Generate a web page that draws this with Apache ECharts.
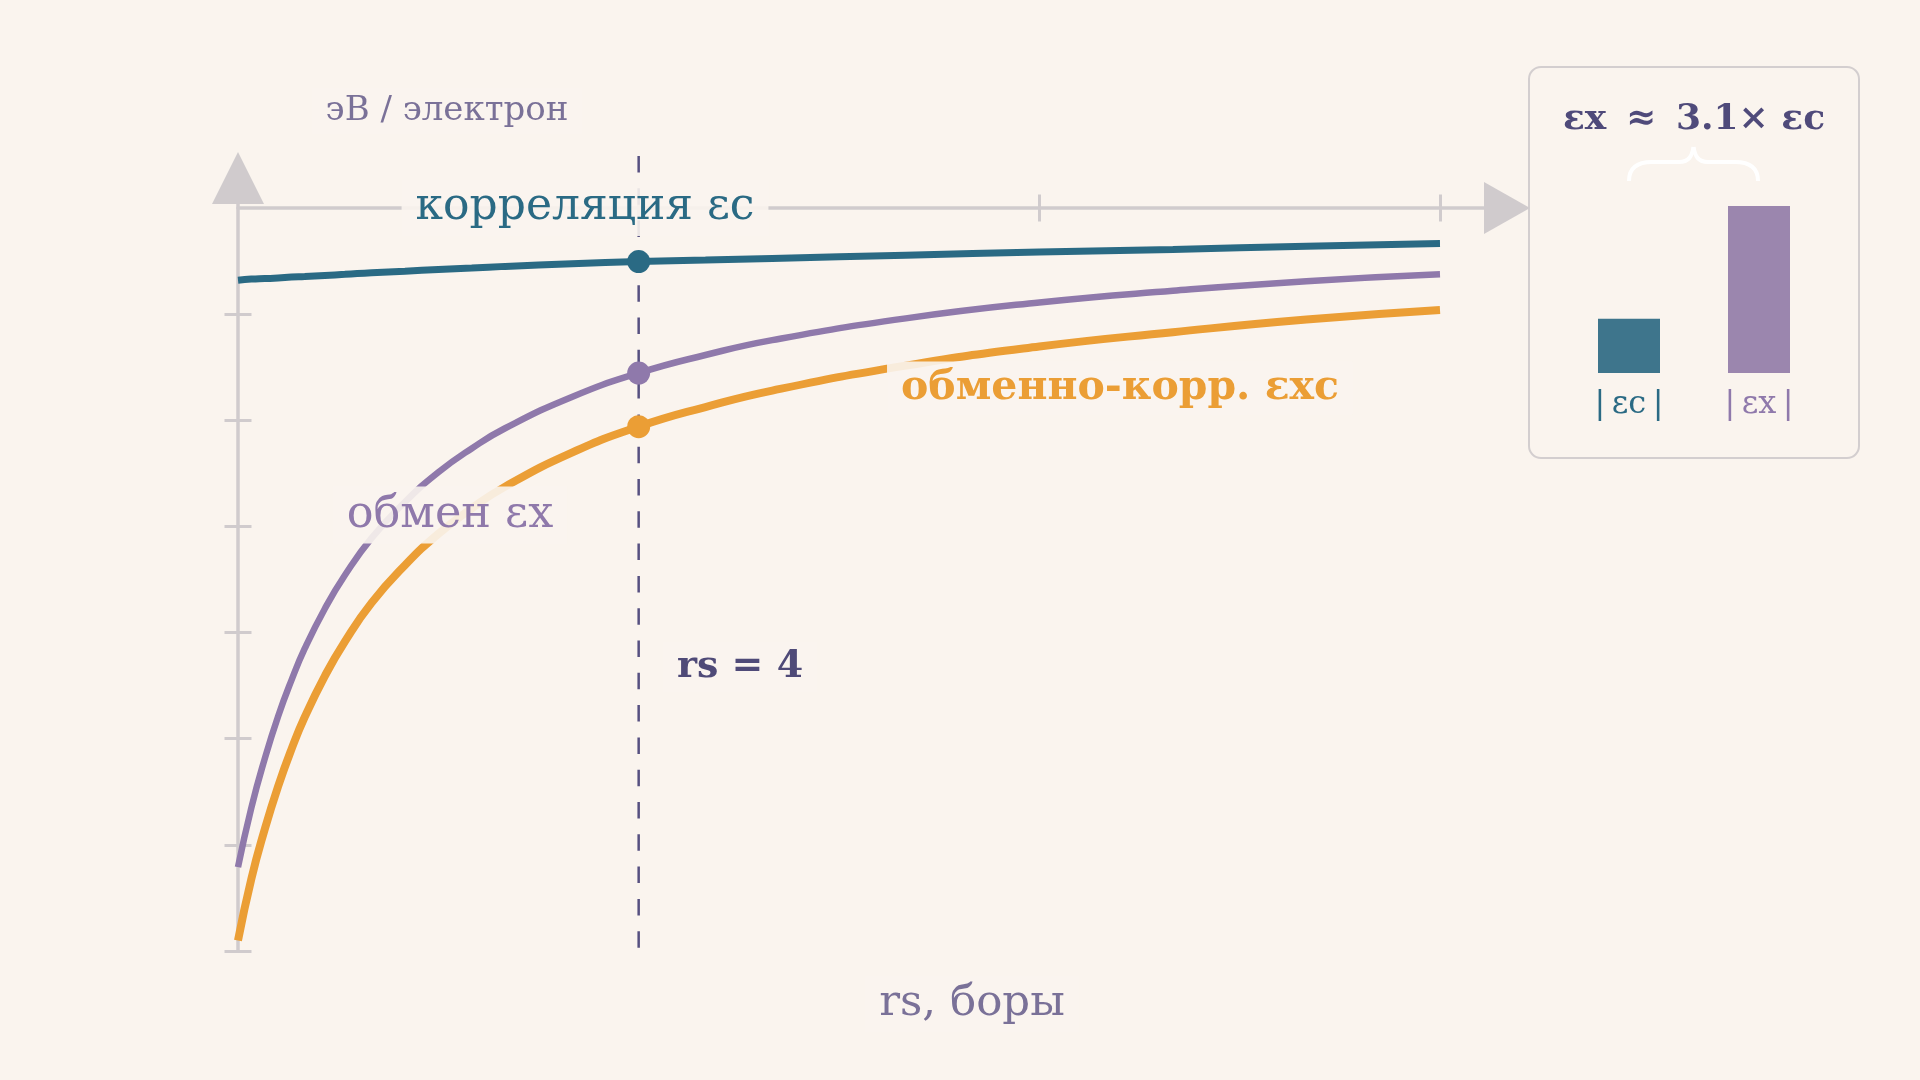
<!DOCTYPE html>
<html>
<head>
<meta charset="utf-8">
<script src="https://cdn.jsdelivr.net/npm/echarts@6/dist/echarts.min.js"></script>
<style>
html,body{margin:0;padding:0;background:#faf4ee;}
#chart{width:1920px;height:1080px;}
</style>
</head>
<body>
<div id="chart"></div>
<script>
// ---- data ----
const rs     = [1, 1.1, 1.2, 1.3, 1.4, 1.5, 1.65, 1.8, 2, 2.25, 2.5, 2.75, 3, 3.5, 4, 4.5, 5, 6, 7, 8, 9, 10];
const epsX   = [-12.42, -11.3, -10.38, -9.58, -8.9, -8.3, -7.55, -6.92, -6.22, -5.54, -4.98, -4.53, -4.15, -3.56, -3.11, -2.77, -2.49, -2.08, -1.78, -1.56, -1.38, -1.25];
const epsC   = [-1.36, -1.34, -1.33, -1.32, -1.30, -1.29, -1.27, -1.25, -1.22, -1.19, -1.16, -1.13, -1.10, -1.05, -1.01, -0.98, -0.95, -0.89, -0.83, -0.78, -0.72, -0.67];
const epsXC  = [-13.8, -12.64, -11.71, -10.9, -10.2, -9.59, -8.82, -8.17, -7.44, -6.73, -6.14, -5.66, -5.25, -4.61, -4.12, -3.75, -3.44, -2.97, -2.61, -2.34, -2.10, -1.92];
const xTicks = [1, 4, 7, 10];
const yTicks = [0, -2, -4, -6, -8, -10, -12, -14];
const markerRs = 4;
const barLabels = ['|\u2009εc\u2009|', '|\u2009εx\u2009|'];
const ratioText = 'εx \u2009≈\u2009 3.1× εc';
const texts = {
  yName: 'эВ / электрон',
  xName: 'rs, боры',
  corr: 'корреляция εc',
  exch: 'обмен εx',
  xc: 'обменно-корр. εxc',
  marker: 'rs = 4'
};

// ---- styling ----
const BG = '#faf4ee';
const FONT = "'DejaVu Serif', 'Liberation Serif', serif";
const C_TEAL = '#2a6a84', C_PURP = '#8f79ab', C_ORNG = '#eb9e35';
const C_DASH = '#565080', C_AXIS = '#d0cbcd', C_NAME = '#7a7198', C_DARK = '#4f4a78';

const zip = (xs, ys) => xs.map((x, i) => [x, ys[i]]);
const mi = rs.indexOf(markerRs);
const barValues = [Math.abs(epsC[mi]), Math.abs(epsX[mi])];

const chart = echarts.init(document.getElementById('chart'), null, {renderer: 'canvas'});

const xMin = xTicks[0], xMax = xTicks[xTicks.length - 1], xStep = xTicks[1] - xTicks[0];
const yMin = yTicks[yTicks.length - 1], yMax = yTicks[0], yStep = yTicks[0] - yTicks[1];

// pixel layout
const L = 238, R = 1440, T = 208, B = 951;
const arrowX = 1507, arrowY = 178, dashTop = 156;
const xArrowMax = xMin + (xMax - xMin) * (arrowX - L) / (R - L);
const yArrowMax = yMin + (yMax - yMin) * (B - arrowY) / (B - T);

function tickAxis(kind, inside) {
  const base = {
    type: 'value', gridIndex: 0,
    axisLine: {show: false},
    axisTick: {show: true, inside: inside, length: 13.5, lineStyle: {color: C_AXIS, width: 3}},
    axisLabel: {show: false},
    splitLine: {show: false}
  };
  if (kind === 'x') {
    Object.assign(base, {min: xMin, max: xMax, interval: xStep, position: 'top'});
    base.axisTick.customValues = xTicks.slice(1);
  } else {
    Object.assign(base, {min: yMin, max: yMax, interval: yStep, position: 'left'});
    base.axisTick.customValues = yTicks.slice(1);
  }
  return base;
}
const hidden = {show: false};

function label(text, x, y, size, color, bold, halo) {
  const s = {
    text: text, x: x, y: y, fill: color,
    font: (bold ? 'bold ' : '') + size + 'px ' + FONT,
    align: 'center', verticalAlign: 'middle'
  };
  if (halo) {
    Object.assign(s, {
      backgroundColor: 'rgba(250,244,238,0.9)', padding: [6, 14],
      boxShadowBlur: 18, boxShadowColor: BG
    });
  }
  return {type: 'text', z: 50, style: s};
}

const option = {
  backgroundColor: BG,
  animation: false,
  grid: [
    {left: L, top: T, width: R - L, height: B - T},
    {left: L, top: arrowY, width: arrowX - L, height: B - arrowY},
    {left: L, top: dashTop, width: R - L, height: B - dashTop},
    {left: 1564, top: 206, width: 260, height: 167}
  ],
  xAxis: [
    tickAxis('x', false),
    tickAxis('x', true),
    {type: 'value', gridIndex: 1, min: xMin, max: xArrowMax,
     axisLine: {show: true, onZero: true, symbol: ['none', 'triangle'], symbolSize: [52, 46],
                lineStyle: {color: C_AXIS, width: 3.5}},
     axisTick: hidden, axisLabel: hidden, splitLine: hidden},
    {type: 'value', gridIndex: 2, min: xMin, max: xMax, show: false},
    {type: 'category', gridIndex: 3,
     data: [
       {value: barLabels[0], textStyle: {color: C_TEAL}},
       {value: barLabels[1], textStyle: {color: C_PURP}}
     ],
     axisLine: hidden, axisTick: hidden, splitLine: hidden,
     axisLabel: {show: true, margin: 16, fontSize: 32, fontFamily: FONT}}
  ],
  yAxis: [
    tickAxis('y', false),
    tickAxis('y', true),
    {type: 'value', gridIndex: 1, min: yMin, max: yArrowMax, position: 'left',
     axisLine: {show: true, onZero: false, symbol: ['none', 'triangle'], symbolSize: [52, 52],
                lineStyle: {color: C_AXIS, width: 3.5}},
     axisTick: hidden, axisLabel: hidden, splitLine: hidden},
    {type: 'value', gridIndex: 2, min: 0, max: 1, show: false},
    {type: 'value', gridIndex: 3, min: 0, max: 'dataMax', show: false}
  ],
  graphic: [
    {type: 'rect', z: -5, shape: {x: 1529, y: 67, width: 330, height: 391, r: 12},
     style: {fill: BG, stroke: '#d3cecf', lineWidth: 2}},
    label(texts.yName, 447, 111, 34, C_NAME, false, true),
    label(texts.corr, 585, 208, 44, C_TEAL, false, true),
    label(texts.exch, 450, 515, 44.5, C_PURP, false, true),
    label(texts.xc, 1120, 388, 41, C_ORNG, true, true),
    label(texts.marker, 740, 667, 38, C_DARK, true, true),
    label(texts.xName, 972, 1004, 43.5, C_NAME, false, true),
    label(ratioText, 1694, 120, 36, '#4f4a7a', true, false),
    // brace under the ratio
    {type: 'bezierCurve', z: 50, shape: {x1: 1629, y1: 181, cpx1: 1629, cpy1: 167, cpx2: 1638, cpy2: 162, x2: 1652, y2: 162},
     style: {stroke: '#ffffff', lineWidth: 4, fill: null}},
    {type: 'line', z: 50, shape: {x1: 1652, y1: 162, x2: 1679, y2: 162}, style: {stroke: '#ffffff', lineWidth: 4}},
    {type: 'bezierCurve', z: 50, shape: {x1: 1679, y1: 162, cpx1: 1689, cpy1: 162, cpx2: 1692, cpy2: 156, x2: 1693.5, y2: 147},
     style: {stroke: '#ffffff', lineWidth: 4, fill: null}},
    {type: 'bezierCurve', z: 50, shape: {x1: 1693.5, y1: 147, cpx1: 1695, cpy1: 156, cpx2: 1698, cpy2: 162, x2: 1708, y2: 162},
     style: {stroke: '#ffffff', lineWidth: 4, fill: null}},
    {type: 'line', z: 50, shape: {x1: 1708, y1: 162, x2: 1735, y2: 162}, style: {stroke: '#ffffff', lineWidth: 4}},
    {type: 'bezierCurve', z: 50, shape: {x1: 1735, y1: 162, cpx1: 1749, cpy1: 162, cpx2: 1758, cpy2: 167, x2: 1758, y2: 181},
     style: {stroke: '#ffffff', lineWidth: 4, fill: null}}
  ],
  series: [
    {type: 'line', xAxisIndex: 3, yAxisIndex: 3, data: [[markerRs, 1], [markerRs, 0]],
     showSymbol: false, symbol: 'none', z: 1,
     lineStyle: {color: C_DASH, width: 2.5, type: [16.5, 15.8]}},
    {type: 'line', xAxisIndex: 0, yAxisIndex: 0, data: zip(rs, epsC), smooth: 0.5,
     showSymbol: false, symbol: 'none', lineStyle: {color: C_TEAL, width: 7}},
    {type: 'line', xAxisIndex: 0, yAxisIndex: 0, data: zip(rs, epsX), smooth: 0.5,
     showSymbol: false, symbol: 'none', lineStyle: {color: C_PURP, width: 6.5}},
    {type: 'line', xAxisIndex: 0, yAxisIndex: 0, data: zip(rs, epsXC), smooth: 0.5,
     showSymbol: false, symbol: 'none', lineStyle: {color: C_ORNG, width: 8}},
    {type: 'scatter', xAxisIndex: 0, yAxisIndex: 0, symbolSize: 23, z: 5,
     data: [
       {value: [markerRs, epsC[mi]], itemStyle: {color: C_TEAL, opacity: 1}},
       {value: [markerRs, epsX[mi]], itemStyle: {color: C_PURP, opacity: 1}},
       {value: [markerRs, epsXC[mi]], itemStyle: {color: C_ORNG, opacity: 1}}
     ]},
    {type: 'bar', xAxisIndex: 4, yAxisIndex: 4, barWidth: 62,
     data: [
       {value: barValues[0], itemStyle: {color: '#3e758c'}},
       {value: barValues[1], itemStyle: {color: '#9b86ae'}}
     ]}
  ]
};
chart.setOption(option);
</script>
</body>
</html>
